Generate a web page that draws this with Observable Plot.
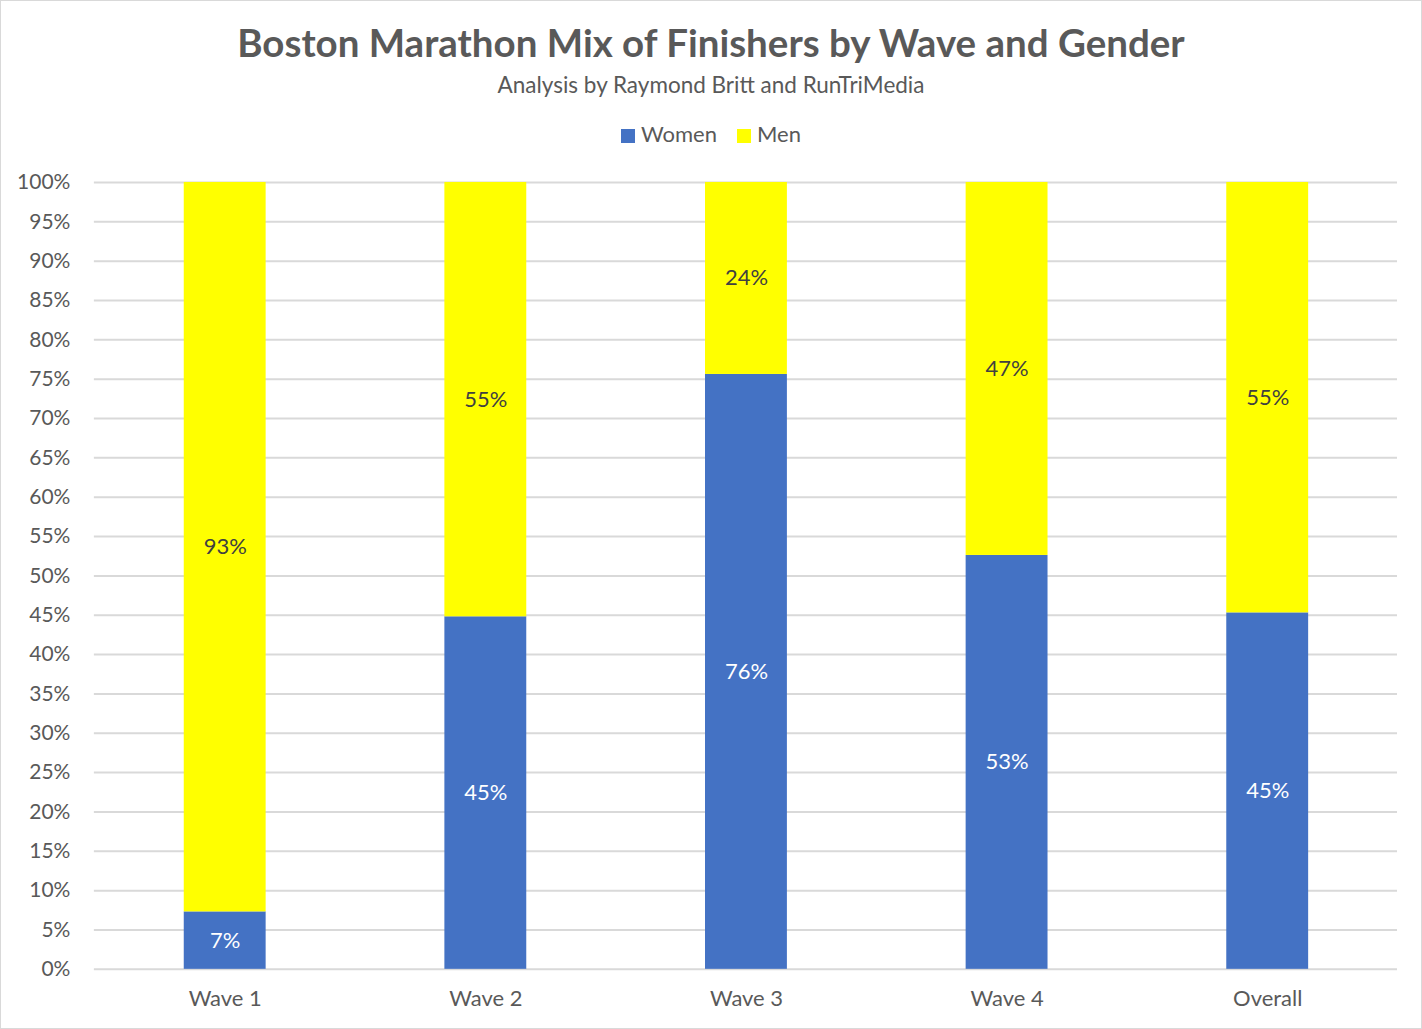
<!DOCTYPE html>
<html><head><meta charset="utf-8">
<script src="https://cdn.jsdelivr.net/npm/d3@7"></script>
<script src="https://cdn.jsdelivr.net/npm/@observablehq/plot@0.6"></script>
<style>
body{margin:0;background:#fff;font-family:Lato,"Open Sans",sans-serif;}
#wrap{position:relative;width:1420px;height:1027px;border:1px solid #d9d9d9;overflow:hidden;}
.t{position:absolute;left:0;width:1420px;text-align:center;color:#595959;}
#title{top:18px;font-size:38.5px;font-weight:bold;}
#sub{top:70px;font-size:22.5px;}
#legend{top:119px;font-size:22px;display:flex;justify-content:center;gap:20px;}
#legend span.sw{display:inline-block;width:14px;height:14px;margin-right:6px;vertical-align:-1px;}
#chart{position:absolute;left:0;top:150px;}
</style></head>
<body><div id="wrap">
<div class="t" id="title">Boston Marathon Mix of Finishers by Wave and Gender</div>
<div class="t" id="sub">Analysis by Raymond Britt and RunTriMedia</div>
<div class="t" id="legend"><div><span class="sw" style="background:#4472c4"></span>Women</div><div><span class="sw" style="background:#ffff00"></span>Men</div></div>
<div id="chart"></div>
</div>
<script>
const waves = ["Wave 1", "Wave 2", "Wave 3", "Wave 4", "Overall"];
const women = [0.073, 0.448, 0.756, 0.526, 0.453];
const men = [0.927, 0.552, 0.244, 0.474, 0.547];
const genders = ["Women", "Men"];
const colors = ["#4472c4", "#ffff00"];
const yTicks = d3.range(0, 101, 5).map(d => d / 100);

const data = [];
waves.forEach((w, i) => {
  data.push({wave: w, gender: "Women", value: women[i]});
  data.push({wave: w, gender: "Men", value: men[i]});
});

const plot = Plot.plot({
  width: 1422,
  height: 879,
  marginTop: 31,
  marginBottom: 60,
  marginLeft: 93,
  marginRight: 24,
  style: {fontFamily: "Lato, 'Open Sans', sans-serif", fontSize: "21px", color: "#595959", background: "transparent"},
  x: {domain: waves, paddingInner: 0.686, paddingOuter: 0.343, label: null},
  y: {domain: [0, 1], label: null},
  color: {domain: genders, range: colors},
  marks: [
    Plot.gridY(yTicks, {stroke: "#d9d9d9", strokeOpacity: 1, strokeWidth: 2}),
    Plot.barY(data, Plot.stackY({x: "wave", y: "value", fill: "gender", order: genders})),
    Plot.text(data, Plot.stackY({x: "wave", y: "value", z: "gender", order: genders,
      text: d => Math.round(d.value * 100) + "%",
      fill: d => d.gender === "Women" ? "#ffffff" : "#404040",
      fontSize: 22})),
    Plot.axisY({ticks: yTicks, tickFormat: d3.format(".0%"), tickSize: 0, tickPadding: 24, fontSize: 21, fill: "#595959"}),
    Plot.axisX({tickSize: 0, tickPadding: 21, fontSize: 22, fill: "#595959"})
  ]
});
document.getElementById("chart").appendChild(plot);
</script>
</body></html>
